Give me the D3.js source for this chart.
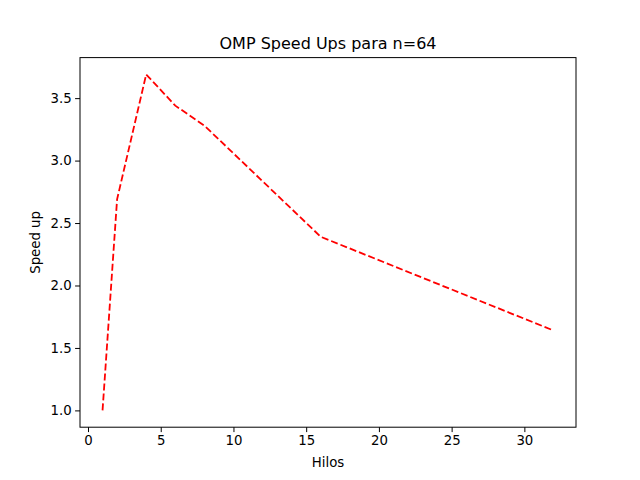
<!DOCTYPE html>
<html>
<head>
<meta charset="utf-8">
<style>
  body { margin: 0; background: #fff; }
  text { font-family: 'DejaVu Sans', sans-serif; }
</style>
</head>
<body>
<svg id="chart" width="640" height="480"></svg>
<script src="https://cdn.jsdelivr.net/npm/d3@7"></script>
<script>
const hilos = [1, 2, 4, 6, 8, 16, 32];
const speedUps = [1.0, 2.69, 3.69, 3.44, 3.28, 2.39, 1.64];
const xTicks = [0, 5, 10, 15, 20, 25, 30];
const yTicks = [1.0, 1.5, 2.0, 2.5, 3.0, 3.5];

const svg = d3.select("#chart");
const m = { left: 80, right: 576, top: 57.6, bottom: 427.2 };

const xPad = (32 - 1) * 0.05, yPad = (3.69 - 1.0) * 0.05;
const x = d3.scaleLinear().domain([1 - xPad, 32 + xPad]).range([m.left, m.right]);
const y = d3.scaleLinear().domain([1.0 - yPad, 3.69 + yPad]).range([m.bottom, m.top]);

svg.append("g").attr("transform", `translate(0,${m.bottom})`)
  .call(d3.axisBottom(x).tickValues(xTicks).tickFormat(d3.format("d")).tickSizeOuter(0).tickSize(4.9).tickPadding(3.5))
  .call(g => g.select(".domain").remove())
  .selectAll("text").attr("font-size", 13.3).attr("fill", "#000");

svg.append("g").attr("transform", `translate(${m.left},0)`)
  .call(d3.axisLeft(y).tickValues(yTicks).tickFormat(d3.format(".1f")).tickSizeOuter(0).tickSize(4.9).tickPadding(3.5))
  .call(g => g.select(".domain").remove())
  .selectAll("text").attr("font-size", 13.3).attr("fill", "#000");

svg.append("rect").attr("x", m.left).attr("y", m.top)
  .attr("width", m.right - m.left).attr("height", m.bottom - m.top)
  .attr("fill", "none").attr("stroke", "#000").attr("stroke-width", 1);

svg.append("path").datum(hilos.map((h, i) => [h, speedUps[i]]))
  .attr("fill", "none").attr("stroke", "red").attr("stroke-width", 1.8)
  .attr("stroke-dasharray", "7,3")
  .attr("d", d3.line().x(d => x(d[0])).y(d => y(d[1])));

svg.append("text").attr("x", (m.left + m.right) / 2).attr("y", 49)
  .attr("text-anchor", "middle").attr("font-size", 16).text("OMP Speed Ups para n=64");
svg.append("text").attr("x", (m.left + m.right) / 2).attr("y", 467)
  .attr("text-anchor", "middle").attr("font-size", 13.3).text("Hilos");
svg.append("text").attr("transform", `translate(40,${(m.top + m.bottom) / 2}) rotate(-90)`)
  .attr("text-anchor", "middle").attr("font-size", 13.3).text("Speed up");
</script>
</body>
</html>
